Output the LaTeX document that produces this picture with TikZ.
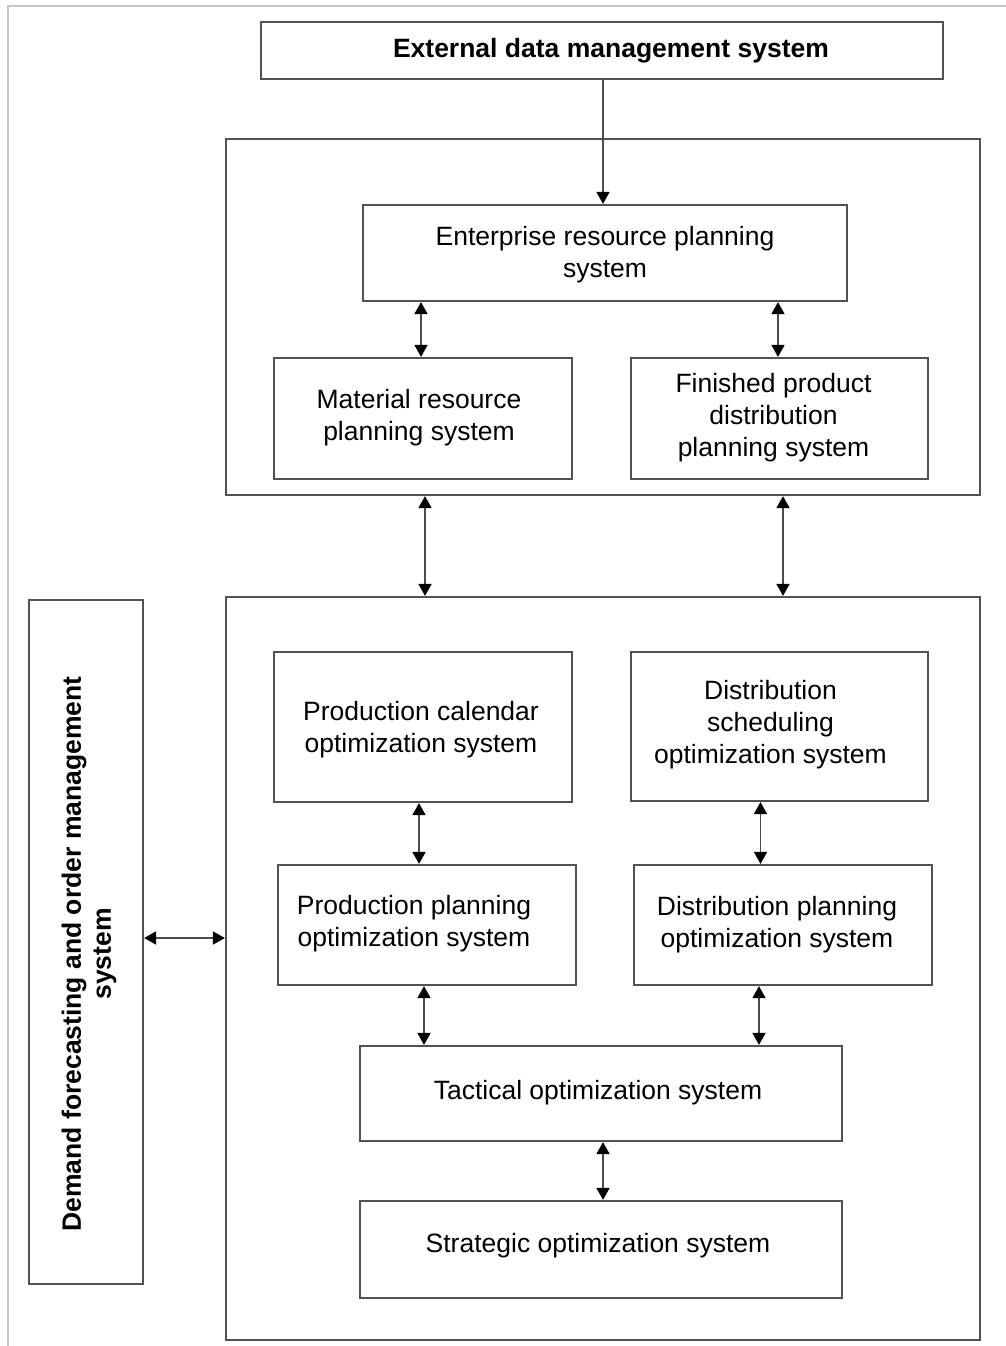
\documentclass[tikz,border=0pt]{standalone}
\usepackage{fontspec}
\setmainfont{Liberation Sans}
\usetikzlibrary{arrows.meta}
\begin{document}
\begin{tikzpicture}[x=1pt,y=-1pt,
  box/.style={draw=black!68,line width=2.2pt,inner sep=0pt},
  frame/.style={draw=black!68,line width=2.2pt,inner sep=0pt},
  txt/.style={align=center,inner sep=0pt,font=\fontsize{26.5}{32}\selectfont},
  btxt/.style={align=center,inner sep=0pt,font=\fontsize{26.5}{30}\selectfont\bfseries},
  link/.style={draw=black!70,line width=1.6pt,{Triangle[length=12pt,width=13pt,black]}-{Triangle[length=12pt,width=13pt,black]}},
  onelink/.style={draw=black!70,line width=1.6pt,-{Triangle[length=12pt,width=13pt,black]}}]
  \useasboundingbox (0,0) rectangle (1006,1346);
  % light page outline
  \draw[black!22,line width=1.2pt] (8,1346) -- (8,6) -- (1006,6);

  % containers
  \node[frame,minimum width=754,minimum height=356] (upper) at (603,317) {};
  \node[frame,minimum width=754,minimum height=743] (lower) at (603,968.5) {};

  % boxes
  \node[box,minimum width=682,minimum height=57] (ext) at (602,50.5) {};
  \node[box,minimum width=484,minimum height=96] (erp) at (605,253) {};
  \node[box,minimum width=298,minimum height=121] (mat) at (423,418.5) {};
  \node[box,minimum width=297,minimum height=121] (fin) at (779.5,418.5) {};
  \node[box,minimum width=298,minimum height=150] (pc) at (423,727) {};
  \node[box,minimum width=297,minimum height=149] (ds) at (779.5,726.5) {};
  \node[box,minimum width=298,minimum height=120] (pp) at (427,925) {};
  \node[box,minimum width=298,minimum height=120] (dp) at (783,925) {};
  \node[box,minimum width=482,minimum height=95] (tac) at (601,1093.5) {};
  \node[box,minimum width=482,minimum height=97] (str) at (601,1249.5) {};
  \node[box,minimum width=114,minimum height=684] (dem) at (86,942) {};

  % box texts
  \node[btxt] (extT) at ([shift={(9,0.5)}]ext.center) {External data management system};
  \node[txt] (erpT) at ([shift={(0,1.5)}]erp.center) {Enterprise resource planning\\system};
  \node[txt] (matT) at ([shift={(-4,-0.5)}]mat.center) {Material resource\\planning system};
  \node[txt] (finT) at ([shift={(-6,-0.5)}]fin.center) {Finished product\\distribution\\planning system};
  \node[txt] (pcT) at ([shift={(-2,3)}]pc.center) {Production calendar\\optimization system};
  \node[txt] (dsT) at ([shift={(-9,-2)}]ds.center) {Distribution\\scheduling\\optimization system};
  \node[txt] (ppT) at ([shift={(-13,-1.5)}]pp.center) {Production planning\\optimization system};
  \node[txt] (dpT) at ([shift={(-6,-0.5)}]dp.center) {Distribution planning\\optimization system};
  \node[txt] (tacT) at ([shift={(-3,-0.5)}]tac.center) {Tactical optimization system};
  \node[txt] (strT) at ([shift={(-3,-3.5)}]str.center) {Strategic optimization system};
  \node[btxt,rotate=90] (demT) at ([shift={(3,12)}]dem.center)
    {Demand forecasting and order management\\system};

  % connectors
  \draw[onelink] ([xshift=1pt]ext.south) -- ([xshift=1pt]ext.south |- erp.north);
  \draw[link] ([xshift=-2pt]erp.south -| mat.north) -- ([xshift=-2pt]mat.north);
  \draw[link] ([xshift=-1.5pt]erp.south -| fin.north) -- ([xshift=-1.5pt]fin.north);
  \draw[link] ([xshift=2pt]upper.south -| mat.south) -- ([xshift=2pt]lower.north -| mat.south);
  \draw[link] ([xshift=3.5pt]upper.south -| fin.south) -- ([xshift=3.5pt]lower.north -| fin.south);
  \draw[link] ([xshift=-4pt]pc.south) -- ([xshift=-4pt]pc.south |- pp.north);
  \draw[link] ([xshift=-19pt]ds.south) -- ([xshift=-19pt]ds.south |- dp.north);
  \draw[link] ([xshift=-3pt]pp.south) -- ([xshift=-3pt]pp.south |- tac.north);
  \draw[link] ([xshift=-24pt]dp.south) -- ([xshift=-24pt]dp.south |- tac.north);
  \draw[link] ([xshift=2pt]tac.south) -- ([xshift=2pt]str.north);
  \draw[link] (dem.east |- 0,938) -- (lower.west |- 0,938);
\end{tikzpicture}
\end{document}
